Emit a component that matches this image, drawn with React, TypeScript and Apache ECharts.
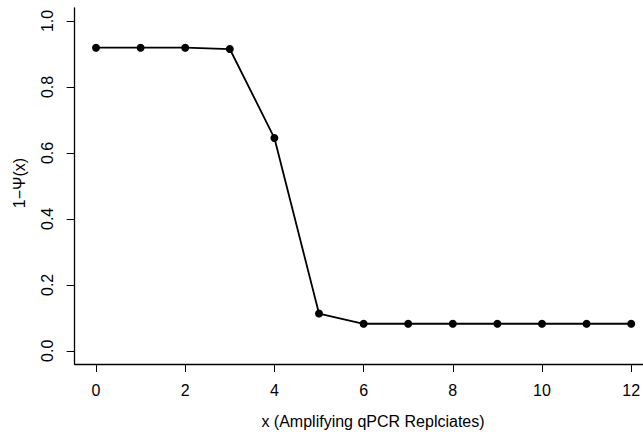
import React, { useEffect, useRef } from "react";
import * as echarts from "echarts";

const xValues = [0, 1, 2, 3, 4, 5, 6, 7, 8, 9, 10, 11, 12];
const yValues = [0.919, 0.919, 0.919, 0.915, 0.645, 0.113, 0.082, 0.082, 0.082, 0.082, 0.082, 0.082, 0.082];
const xTicks = [0, 2, 4, 6, 8, 10, 12];
const yTicks = [0, 0.2, 0.4, 0.6, 0.8, 1.0];
const xTitle = "x (Amplifying qPCR Replciates)";
const yTitle = "1\u2212\u03A8(x)";

export default function App() {
  const ref = useRef<HTMLDivElement>(null);
  useEffect(() => {
    if (!ref.current) return;
    const chart = echarts.init(ref.current, undefined, { renderer: "svg" });
    const font = "Liberation Sans, Arial, Helvetica, sans-serif";
    chart.setOption({
      animation: false,
      backgroundColor: "#ffffff",
      grid: {
        left: 74.6,
        top: 7.8,
        width: 578,
        height: 356.2,
        containLabel: false,
        outerBoundsMode: "none",
      },
      xAxis: {
        type: "value",
        min: -0.48,
        max: 12.48,
        splitLine: { show: false },
        axisLine: { show: true, onZero: false, lineStyle: { color: "#000", width: 1.3 } },
        axisTick: { show: true, customValues: xTicks, length: 8, lineStyle: { color: "#000", width: 1 } },
        axisLabel: {
          customValues: xTicks,
          color: "#000",
          fontFamily: font,
          fontSize: 16,
          margin: 18,
        },
      },
      yAxis: {
        type: "value",
        min: -0.04,
        max: 1.04,
        splitLine: { show: false },
        axisLine: { show: true, onZero: false, lineStyle: { color: "#000", width: 1.3 } },
        axisTick: { show: true, customValues: yTicks, length: 8, lineStyle: { color: "#000", width: 1 } },
        axisLabel: {
          customValues: yTicks,
          rotate: 90,
          color: "#000",
          fontFamily: font,
          fontSize: 16,
          margin: 19,
          formatter: (v: number) => v.toFixed(1),
        },
      },
      graphic: [
        {
          type: "text",
          x: 373,
          y: 421,
          style: { text: xTitle, fill: "#000", font: `16px ${font}`, align: "center", verticalAlign: "middle" },
        },
        {
          type: "text",
          x: 19,
          y: 183,
          rotation: Math.PI / 2,
          style: { text: yTitle, fill: "#000", font: `16px ${font}`, align: "center", verticalAlign: "middle" },
        },
      ],
      series: [
        {
          type: "line",
          data: xValues.map((x, i) => [x, yValues[i]]),
          symbol: "circle",
          symbolSize: 8,
          itemStyle: { color: "#000" },
          lineStyle: { color: "#000", width: 1.8 },
        },
      ],
    });
    return () => chart.dispose();
  }, []);
  return <div ref={ref} style={{ position: "fixed", left: 0, top: 0, width: 643, height: 432 }} />;
}
